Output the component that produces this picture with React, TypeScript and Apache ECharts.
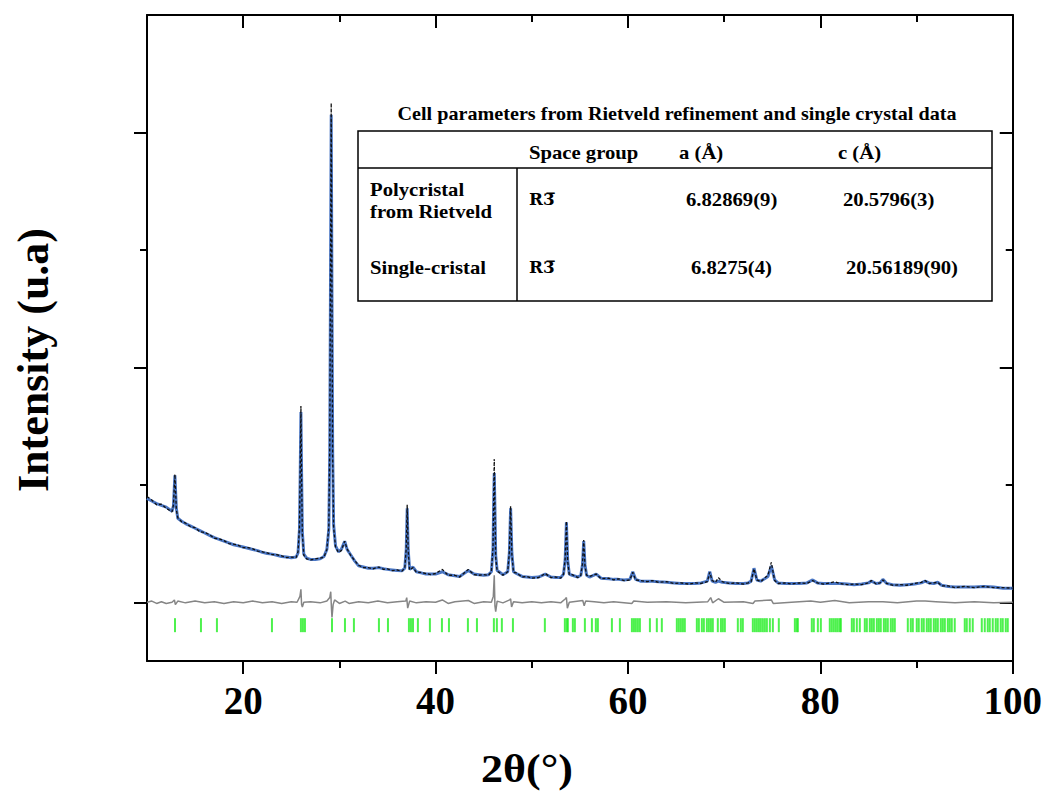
import React, { useEffect, useRef } from "react";
import * as echarts from "echarts";

// 2θ positions (deg), calculated and observed intensity (arbitrary units)
const twoTheta = [
  10.0, 10.5, 11.0, 11.5, 12.0, 12.6, 12.75, 12.9, 13.05, 13.2, 13.6, 14.0, 14.5, 15.0, 15.5, 16.0, 16.5, 17.0, 17.5, 18.0,
  18.5, 19.0, 19.5, 20.0, 20.5, 21.0, 21.5, 22.0, 22.5, 23.0, 23.5, 24.0, 24.5, 25.0, 25.5, 25.7, 25.85, 25.93, 26.0, 26.07,
  26.15, 26.3, 26.6, 27.0, 27.5, 28.0, 28.4, 28.7, 28.9, 29.0, 29.07, 29.15, 29.23, 29.3, 29.4, 29.6, 29.9, 30.2, 30.55, 30.8,
  31.2, 31.6, 32.0, 32.5, 33.0, 33.5, 34.1, 34.6, 35.0, 35.5, 36.0, 36.5, 36.8, 36.95, 37.05, 37.15, 37.3, 37.65, 38.0, 38.5,
  39.0, 39.5, 40.0, 40.7, 41.3, 42.0, 42.5, 43.4, 44.0, 44.5, 45.0, 45.5, 45.8, 45.97, 46.05, 46.1, 46.17, 46.25, 46.4, 46.6,
  47.0, 47.5, 47.67, 47.8, 47.93, 48.1, 48.4, 49.0, 49.5, 50.0, 50.7, 51.4, 52.0, 52.5, 53.0, 53.3, 53.47, 53.6, 53.73, 53.9,
  54.2, 54.8, 55.1, 55.27, 55.4, 55.53, 55.7, 56.0, 56.7, 57.2, 58.0, 58.5, 59.0, 59.6, 60.2, 60.5, 60.8, 61.3, 62.0, 62.5,
  63.2, 64.0, 64.8, 65.5, 66.3, 67.0, 67.6, 68.25, 68.5, 68.75, 69.1, 69.4, 69.8, 70.5, 71.2, 72.0, 72.5, 72.8, 73.1, 73.4,
  73.8, 74.2, 74.55, 74.9, 75.25, 75.6, 76.3, 77.0, 77.8, 78.6, 79.2, 79.7, 80.3, 81.0, 81.5, 82.0, 82.8, 83.5, 84.3, 85.0,
  85.3, 85.8, 86.2, 86.5, 86.9, 87.5, 88.3, 89.0, 89.8, 90.5, 90.9, 91.3, 91.8, 92.2, 92.6, 93.3, 94.0, 95.0, 96.0, 97.0,
  98.0, 99.0, 100.0,
];
const yCalc = [
  0.885, 0.862, 0.84, 0.825, 0.81, 0.775, 0.82, 1.08, 0.8, 0.715, 0.69, 0.67, 0.65, 0.63, 0.61, 0.59, 0.57, 0.55, 0.535, 0.52,
  0.505, 0.49, 0.48, 0.47, 0.46, 0.45, 0.44, 0.425, 0.415, 0.41, 0.4, 0.39, 0.385, 0.38, 0.385, 0.42, 0.62, 1.1, 1.62, 1.1,
  0.6, 0.41, 0.375, 0.365, 0.365, 0.37, 0.39, 0.45, 0.62, 1.3, 2.6, 4.15, 2.6, 1.3, 0.66, 0.48, 0.43, 0.45, 0.52, 0.45,
  0.4, 0.35, 0.31, 0.3, 0.29, 0.29, 0.295, 0.285, 0.28, 0.275, 0.27, 0.268, 0.29, 0.45, 0.8, 0.45, 0.28, 0.3, 0.26, 0.25,
  0.24, 0.24, 0.24, 0.26, 0.235, 0.225, 0.22, 0.27, 0.24, 0.235, 0.23, 0.235, 0.26, 0.45, 0.9, 1.1, 0.8, 0.4, 0.27, 0.26,
  0.235, 0.26, 0.42, 0.8, 0.42, 0.26, 0.245, 0.22, 0.215, 0.21, 0.215, 0.24, 0.215, 0.21, 0.21, 0.24, 0.36, 0.68, 0.36, 0.24,
  0.23, 0.215, 0.23, 0.32, 0.52, 0.32, 0.23, 0.215, 0.24, 0.205, 0.2, 0.195, 0.195, 0.19, 0.195, 0.26, 0.195, 0.18, 0.18, 0.18,
  0.175, 0.17, 0.165, 0.16, 0.16, 0.16, 0.165, 0.18, 0.26, 0.18, 0.17, 0.18, 0.17, 0.165, 0.16, 0.16, 0.165, 0.18, 0.29, 0.19,
  0.18, 0.2, 0.22, 0.31, 0.19, 0.165, 0.16, 0.16, 0.16, 0.165, 0.19, 0.165, 0.16, 0.16, 0.16, 0.16, 0.155, 0.15, 0.155, 0.165,
  0.18, 0.16, 0.165, 0.195, 0.16, 0.15, 0.145, 0.15, 0.155, 0.165, 0.18, 0.165, 0.16, 0.17, 0.145, 0.135, 0.13, 0.13, 0.13, 0.135,
  0.13, 0.12, 0.12,
];
const yObs = [
  0.9, 0.87, 0.83, 0.835, 0.8, 0.77, 0.83, 1.09, 0.79, 0.72, 0.685, 0.675, 0.645, 0.635, 0.6, 0.595, 0.575, 0.545, 0.54, 0.525,
  0.5, 0.495, 0.485, 0.465, 0.465, 0.455, 0.435, 0.43, 0.42, 0.405, 0.405, 0.395, 0.38, 0.385, 0.38, 0.43, 0.64, 1.15, 1.67, 1.08,
  0.58, 0.4, 0.37, 0.36, 0.37, 0.375, 0.385, 0.45, 0.64, 1.35, 2.7, 4.25, 2.55, 1.25, 0.64, 0.47, 0.425, 0.44, 0.52, 0.455,
  0.395, 0.355, 0.315, 0.295, 0.295, 0.285, 0.3, 0.28, 0.285, 0.27, 0.275, 0.265, 0.29, 0.46, 0.83, 0.44, 0.275, 0.295, 0.255, 0.255,
  0.245, 0.235, 0.245, 0.28, 0.23, 0.23, 0.215, 0.28, 0.235, 0.23, 0.235, 0.23, 0.26, 0.47, 0.95, 1.22, 0.78, 0.38, 0.265, 0.255,
  0.23, 0.26, 0.43, 0.82, 0.41, 0.255, 0.25, 0.215, 0.22, 0.205, 0.21, 0.245, 0.21, 0.215, 0.205, 0.24, 0.37, 0.69, 0.35, 0.235,
  0.235, 0.21, 0.23, 0.33, 0.53, 0.31, 0.23, 0.22, 0.24, 0.2, 0.205, 0.19, 0.2, 0.185, 0.19, 0.255, 0.19, 0.185, 0.175, 0.185,
  0.17, 0.175, 0.16, 0.165, 0.155, 0.165, 0.16, 0.175, 0.255, 0.185, 0.17, 0.21, 0.175, 0.16, 0.165, 0.155, 0.165, 0.175, 0.285, 0.19,
  0.175, 0.205, 0.23, 0.34, 0.185, 0.16, 0.165, 0.155, 0.165, 0.16, 0.185, 0.165, 0.155, 0.165, 0.175, 0.16, 0.15, 0.155, 0.15, 0.165,
  0.185, 0.155, 0.165, 0.19, 0.16, 0.145, 0.15, 0.145, 0.16, 0.17, 0.185, 0.16, 0.165, 0.17, 0.14, 0.14, 0.125, 0.135, 0.125, 0.135,
  0.125, 0.125, 0.12,
];

// difference curve (obs - calc)
const diffTheta = [
  10, 10.5, 11, 11.5, 12, 12.6, 12.85, 12.95, 13.2, 14, 15, 16, 17, 18, 19, 20, 21, 22, 23, 24, 25, 25.6, 25.9, 26.0, 26.07,
  26.15, 26.3, 27, 28, 28.7, 29.0, 29.1, 29.18, 29.23, 29.35, 29.5, 30, 30.6, 31, 32, 33, 34, 35, 36, 36.9, 37.0, 37.1, 37.3,
  38, 39, 40, 40.7, 41.3, 42, 43.4, 44, 45, 45.8, 46.0, 46.1, 46.17, 46.25, 46.4, 47, 47.7, 47.8, 47.9, 48.1, 49, 50, 51, 52,
  53, 53.5, 53.6, 53.7, 53.9, 55.3, 55.45, 55.6, 56.5, 57.5, 58.5, 60.4, 60.6, 62, 64, 66, 68.3, 68.6, 68.8, 69.4, 70, 72, 73,
  73.2, 74.9, 75.1, 77, 79, 80, 81.5, 83, 85, 86.5, 88, 90, 90.9, 92, 94, 96, 98, 100,
];
const diffValues = [
  0, 0.01, -0.01, 0.005, -0.01, 0, 0.02, -0.02, 0.01, -0.005, 0.01, -0.005, 0.005, -0.01, 0.005, -0.005, 0.01, -0.005, 0.005, -0.01, 0.005, 0, 0.05, 0.11, -0.02,
  -0.04, 0, 0.005, -0.005, 0.01, 0.04, 0.09, -0.06, -0.13, -0.02, 0.02, -0.01, 0.01, -0.01, 0.005, -0.005, 0.01, -0.005, 0.005, 0.01, 0.04, -0.05, 0.01,
  -0.005, 0.005, 0, 0.02, -0.01, 0.005, 0.015, -0.01, 0.005, 0, 0.05, 0.23, -0.03, -0.08, 0.01, -0.005, 0.02, 0.03, -0.04, 0.005, -0.005, 0.005, -0.005, 0.005,
  -0.005, 0.03, 0.04, -0.05, 0, 0.015, -0.03, 0.01, 0.005, -0.005, 0.005, -0.01, 0.01, 0, 0.005, -0.005, 0.005, 0.04, -0.005, 0.03, 0, 0.005, -0.01,
  0.01, 0.02, -0.01, 0, 0.01, 0, 0.015, -0.005, 0.005, 0.005, -0.005, 0.01, 0.01, 0.005, -0.005, 0.005, -0.005, 0,
];

// Bragg reflection positions (deg)
const braggPositions = [
  12.91, 15.61, 17.27, 22.99, 26.0, 26.21, 26.42, 29.23, 30.58, 31.51, 34.11, 35.05, 37.23, 37.44, 37.65, 38.16, 39.41,
  40.66, 41.39, 43.36, 44.3, 46.06, 46.37, 46.89, 48.04, 51.36, 53.44, 53.65, 53.75, 54.27, 54.48, 55.52, 56.25, 56.66,
  56.87, 58.33, 59.16, 60.41, 60.62, 60.82, 61.03, 61.24, 62.28, 63.0, 63.52, 65.08, 65.29, 65.5, 65.71, 65.91, 67.16,
  67.37, 67.68, 67.89, 68.2, 68.41, 68.62, 68.82, 69.34, 69.66, 69.86, 70.07, 71.42, 71.73, 71.94, 72.98, 73.19, 73.4,
  73.61, 73.81, 74.02, 74.23, 74.44, 74.75, 75.06, 75.68, 77.35, 77.55, 77.66, 79.11, 79.32, 79.74, 80.05, 80.98, 81.19,
  81.4, 81.61, 81.81, 82.02, 82.13, 83.27, 83.48, 83.79, 84.1, 84.62, 84.83, 85.14, 85.35, 85.56, 85.87, 86.08, 86.28,
  86.6, 86.8, 87.01, 87.32, 87.53, 87.74, 89.09, 89.4, 89.61, 90.02, 90.23, 90.54, 90.75, 91.06, 91.27, 91.48, 91.79, 92.0,
  92.21, 92.52, 92.73, 92.94, 93.25, 93.45, 93.66, 93.97, 95.01, 95.22, 95.53, 95.84, 96.78, 97.09, 97.4, 97.61, 97.92,
  98.23, 98.44, 98.75, 98.96, 99.27, 99.48,
];
const braggLevel = -0.195;

const xMajorTicks = [20, 40, 60, 80, 100];
const xMinorTicks = [30, 50, 70, 90];
const yMajorTicks = [0, 2, 4];
const yMinorTicks = [1, 3];

const tableTitle = "Cell parameters from Rietveld refinement and single crystal data";
const tableHeader = ["Space group", "a (Å)", "c (Å)"];
const tableRows = [
  { name: ["Polycristal", "from Rietveld"], group: "R3\u0305", a: "6.82869(9)", c: "20.5796(3)" },
  { name: ["Single-cristal"], group: "R3\u0305", a: "6.8275(4)", c: "20.56189(90)" },
];

const SERIF = '"Liberation Serif", "Times New Roman", serif';
const MARK_SERIF = '"DejaVu Serif", serif';

export default function App() {
  const ref = useRef<HTMLDivElement>(null);
  useEffect(() => {
    document.body.style.margin = "0";
    if (!ref.current) return;
    const chart = echarts.init(ref.current, null, { renderer: "svg" });

    const calcData = twoTheta.map((x, i) => [x, yCalc[i]]);
    const obsData = twoTheta.map((x, i) => [x, yObs[i]]);
    const diffData = diffTheta.map((x, i) => [x, diffValues[i]]);
    const braggData = braggPositions.map((x) => [x, braggLevel]);

    const axisLine = { show: true, onZero: false, lineStyle: { color: "#000", width: 2 } };
    const noLine = { show: false, onZero: false };
    const xBase = { type: "value", min: 10, max: 100, splitLine: { show: false } };
    const yBase = { type: "value", min: -0.5, max: 5, splitLine: { show: false }, axisLabel: { show: false } };

    const tx = (text: string, x: number, y: number, size: number, align = "left", sx = 1.15, family = SERIF) => ({
      type: "text",
      x,
      y,
      scaleX: sx,
      style: {
        text,
        font: `bold ${size}px ${family}`,
        fill: "#000",
        textAlign: align,
        textVerticalAlign: "middle",
      },
    });

    const graphics: any[] = [
      tx(tableTitle, 677, 114, 18, "center", 1.12),
      {
        type: "rect",
        shape: { x: 358, y: 131, width: 634, height: 170 },
        style: { fill: "none", stroke: "#000", lineWidth: 1.5 },
      },
      { type: "line", shape: { x1: 358, y1: 168, x2: 992, y2: 168 }, style: { stroke: "#000", lineWidth: 1.5 } },
      { type: "line", shape: { x1: 517, y1: 168, x2: 517, y2: 301 }, style: { stroke: "#000", lineWidth: 1.5 } },
      tx(tableHeader[0], 529, 153, 18),
      tx(tableHeader[1], 679, 153, 18),
      tx(tableHeader[2], 838, 153, 18),
      tx(tableRows[0].name[0], 370, 190, 18),
      tx(tableRows[0].name[1], 370, 212, 18),
      tx(tableRows[0].group, 529, 200, 16, "left", 1.05, MARK_SERIF),
      tx(tableRows[0].a, 686, 200, 18),
      tx(tableRows[0].c, 843, 200, 18),
      tx(tableRows[1].name[0], 370, 268, 18),
      tx(tableRows[1].group, 529, 268, 16, "left", 1.05, MARK_SERIF),
      tx(tableRows[1].a, 691, 268, 18),
      tx(tableRows[1].c, 846, 268, 18),
      tx("2θ(°)", 527, 769, 40, "center", 1.1),
      {
        type: "text",
        x: 33,
        y: 360,
        rotation: Math.PI / 2,
        style: {
          text: "Intensity (u.a)",
          font: `bold 44px ${SERIF}`,
          fill: "#000",
          textAlign: "center",
          textVerticalAlign: "middle",
        },
      },
    ];

    chart.setOption({
      animation: false,
      backgroundColor: "#fff",
      grid: { left: 147, right: 32, top: 15, bottom: 132, containLabel: false },
      xAxis: [
        {
          ...xBase,
          position: "bottom",
          axisLine,
          axisTick: { show: true, customValues: xMajorTicks, length: 13, inside: false, lineStyle: { color: "#000", width: 2 } },
          axisLabel: {
            show: true,
            customValues: xMajorTicks,
            margin: 20,
            color: "#000",
            fontFamily: SERIF,
            fontWeight: "bold",
            fontSize: 39,
          },
        },
        {
          ...xBase,
          position: "bottom",
          axisLine: noLine,
          axisTick: { show: true, customValues: xMinorTicks, length: 7, inside: false, lineStyle: { color: "#000", width: 2 } },
          axisLabel: { show: false },
        },
        {
          ...xBase,
          position: "top",
          axisLine,
          axisTick: { show: true, customValues: xMajorTicks, length: 13, inside: true, lineStyle: { color: "#000", width: 2 } },
          axisLabel: { show: false },
        },
        {
          ...xBase,
          position: "top",
          axisLine: noLine,
          axisTick: { show: true, customValues: xMinorTicks, length: 7, inside: true, lineStyle: { color: "#000", width: 2 } },
          axisLabel: { show: false },
        },
      ],
      yAxis: [
        {
          ...yBase,
          position: "left",
          axisLine,
          axisTick: { show: true, customValues: yMajorTicks, length: 13, inside: false, lineStyle: { color: "#000", width: 2 } },
        },
        {
          ...yBase,
          position: "left",
          axisLine: noLine,
          axisTick: { show: true, customValues: yMinorTicks, length: 7, inside: false, lineStyle: { color: "#000", width: 2 } },
        },
        {
          ...yBase,
          position: "right",
          axisLine,
          axisTick: { show: true, customValues: yMajorTicks, length: 13, inside: true, lineStyle: { color: "#000", width: 2 } },
        },
        {
          ...yBase,
          position: "right",
          axisLine: noLine,
          axisTick: { show: true, customValues: yMinorTicks, length: 7, inside: true, lineStyle: { color: "#000", width: 2 } },
        },
      ],
      series: [
        {
          name: "Bragg positions",
          type: "scatter",
          data: braggData,
          symbol: "rect",
          symbolSize: [2, 14],
          itemStyle: { color: "#22ee22" },
          silent: true,
        },
        {
          name: "Yobs-Ycalc",
          type: "line",
          data: diffData,
          showSymbol: false,
          lineStyle: { color: "#858585", width: 1.5 },
        },
        {
          name: "Ycalc",
          type: "line",
          data: calcData,
          showSymbol: false,
          lineStyle: { color: "#4a76c4", width: 3 },
        },
        {
          name: "Yobs",
          type: "line",
          data: obsData,
          showSymbol: false,
          lineStyle: { color: "#111", width: 1.3, type: [3, 2] },
        },
      ],
      graphic: graphics,
    });
    return () => chart.dispose();
  }, []);
  return <div ref={ref} style={{ width: 1045, height: 793 }} />;
}
